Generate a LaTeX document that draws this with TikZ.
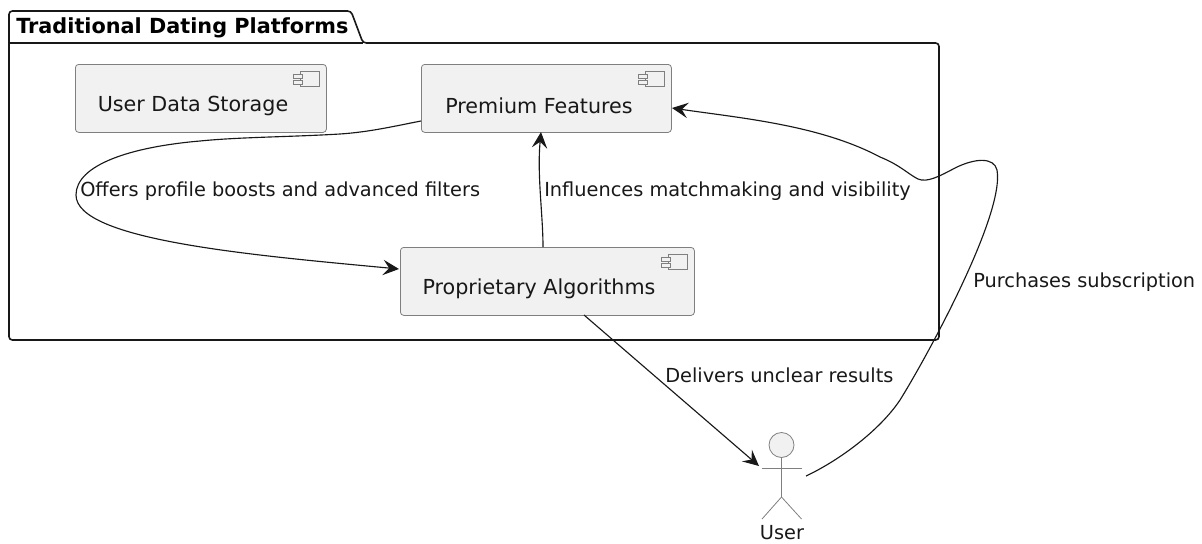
\documentclass[tikz,border=0pt]{standalone}
\usepackage{fontspec}
\setmainfont{DejaVu Sans}
\usetikzlibrary{arrows.meta}
\definecolor{ink}{HTML}{181818}
\definecolor{boxfill}{HTML}{F1F1F1}
\definecolor{boxline}{HTML}{7F7F7F}
\tikzset{
  comp/.style={draw=boxline,fill=boxfill,line width=0.6pt,rounded corners=2.5pt,inner sep=0pt,anchor=north west},
  comptext/.style={font=\fontsize{15.5}{18}\selectfont,text=ink,inner sep=0pt},
  pkg/.style={draw=ink,line width=1.2pt,rounded corners=2.5pt},
  icon/.style={draw=boxline,fill=boxfill,line width=0.6pt},
  elabel/.style={font=\fontsize{14.5}{17}\selectfont,text=ink,inner sep=0pt,anchor=west},
  conn/.style={draw=ink,line width=0.85pt,-{Stealth[length=12pt,width=11.5pt,inset=4.6pt]}},
  actorline/.style={draw=boxline,line width=0.6pt},
}
\newcommand{\compicon}[2]{%
  \draw[icon] (#1-26,#2+7) rectangle (#1-7,#2+22);
  \draw[icon] (#1-33+0,#2+10) rectangle (#1-24+0,#2+14);
  \draw[icon] (#1-33+0,#2+16) rectangle (#1-24+0,#2+20);
}
\begin{document}
\begin{tikzpicture}[x=0.75pt,y=-0.75pt]
\useasboundingbox (0,0) rectangle (1202,543);
% package
\draw[pkg] (9,43) -- (9,11) -- (351,11) -- (363,43) -- (939,43) -- (939,340) -- (9,340) -- cycle;
\draw[pkg] (9,43) -- (363,43);
\node[inner sep=0pt,anchor=west,font=\fontsize{15.6}{18}\selectfont\bfseries,text=black] (title) at (16,27.5) {Traditional Dating Platforms};
% components
\node[comp,minimum width=251*0.75pt,minimum height=68*0.75pt] (storage) at (75,64) {};
\node[comptext] (storagetxt) at (193,106) {User Data Storage};
\compicon{326}{64}
\node[comp,minimum width=250*0.75pt,minimum height=68*0.75pt] (premium) at (421,64) {};
\node[comptext] (premiumtxt) at (539,106) {Premium Features};
\compicon{671}{64}
\node[comp,minimum width=294*0.75pt,minimum height=68*0.75pt] (algo) at (400,247) {};
\node[comptext] (algotxt) at (539,289) {Proprietary Algorithms};
\compicon{694}{247}
% actor
\node[circle,draw=boxline,fill=boxfill,line width=0.6pt,minimum size=25*0.75pt,inner sep=0pt] (head) at (781.5,445) {};
\coordinate (hip) at (781.5,497);
\coordinate (arml) at (762,468);
\coordinate (armr) at (801.5,468);
\coordinate (legl) at (762,519);
\coordinate (legr) at (801.5,519);
\draw[actorline] (head.south) -- (hip) -- (legl);
\draw[actorline] (hip) -- (legr);
\draw[actorline] (arml) -- (armr);
\node[font=\fontsize{14.5}{16}\selectfont,text=ink,inner sep=0pt] (user) at (782,533) {User};
% connector end points
\coordinate (pfl) at (421,121);
\coordinate (pal) at (399,269);
\coordinate (pin) at (672,108);
\coordinate (uout) at (806,476);
\coordinate (uin) at (759,466);
\coordinate (ain) at (584,315);
\coordinate (atop) at (543,247);
\coordinate (ptop) at (541,132);
% connectors
\draw[conn] (pfl) .. controls (395,126) and (370,132) .. (340,134)
  .. controls (290,137) and (240,137) .. (200,141)
  .. controls (130,147) and (76,165) .. (76,195)
  .. controls (76,240) and (250,255) .. (pal);
\draw[conn] (atop) .. controls (543,215) and (537,175) .. (ptop);
\draw[conn] (ain) -- (uin);
\draw[conn] (uout) .. controls (840,460) and (880,430) .. (900,400)
  .. controls (925,360) and (1005,215) .. (997,170)
  .. controls (994,157) and (975,158) .. (955,168)
  .. controls (940,176) and (927,183) .. (918,179)
  .. controls (908,174) and (900,165) .. (880,157)
  .. controls (820,125) and (740,118) .. (pin);
% labels
\node[elabel] (l1) at (80,191) {Offers profile boosts and advanced filters};
\node[elabel] (l2) at (544,191) {Influences matchmaking and visibility};
\node[elabel] (l3) at (665,375) {Delivers unclear results};
\node[elabel] (l4) at (973,282) {Purchases subscription};
\end{tikzpicture}
\end{document}
